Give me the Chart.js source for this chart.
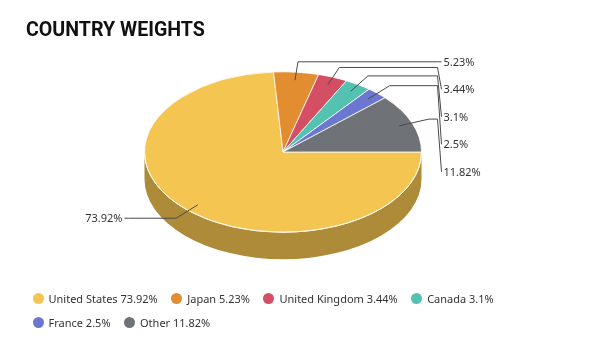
<!DOCTYPE html>
<html>
<head>
<meta charset="utf-8">
<title>Country Weights</title>
<script src="https://cdn.jsdelivr.net/npm/chart.js@4.4.1/dist/chart.umd.min.js"></script>
<style>
  html, body { margin: 0; padding: 0; background: #fff; }
  #wrap { position: relative; width: 600px; height: 352px; overflow: hidden; }
  #chart { position: absolute; left: 0; top: 0; }
  #title {
    position: absolute; left: 26px; top: 19px; margin: 0;
    font: bold 19.6px/22px Roboto, sans-serif; color: #111;
  }
  #legend {
    position: absolute; left: 32.5px; top: 287px; width: 480px;
    display: flex; flex-wrap: wrap; margin: 0; padding: 0; list-style: none;
  }
  #legend li {
    display: flex; align-items: center; height: 23.7px; margin-right: 13.5px;
    font: 11px "Noto Sans", sans-serif; color: #333; white-space: nowrap;
  }
  #legend .dot { width: 11px; height: 11px; border-radius: 50%; margin-right: 5px; }
</style>
</head>
<body>
<div id="wrap">
  <canvas id="chart" width="600" height="352"></canvas>
  <h2 id="title">COUNTRY WEIGHTS</h2>
  <ul id="legend"></ul>
</div>
<script>
const categories = ["United States", "Japan", "United Kingdom", "Canada", "France", "Other"];
const weights = [73.92, 5.23, 3.44, 3.1, 2.5, 11.82];
const sliceColors = ["#f5c551", "#e28d2f", "#d44f64", "#53c2b0", "#6c78cf", "#6f7378"];
const sideColors = ["#ad8b38", "#a0631f", "#963646", "#3a897c", "#4c5592", "#4e5155"];

const PIE_TILT = 0.579;   // vertical squash of the tilted top face
const PIE_DEPTH = 27;     // thickness of the side wall in px
const LABEL_GAP = 27.5;   // minimum vertical distance between stacked labels

function drawLabels(chart) {
  const ctx = chart.ctx;
  const arcs = chart.getDatasetMeta(0).data;
  const cx = arcs[0].x;
  const cy = arcs[0].y;
  const r = arcs[0].outerRadius;

  const points = arcs.map((arc, i) => {
    const mid = (arc.startAngle + arc.endAngle) / 2;
    const cos = Math.cos(mid);
    const sin = Math.sin(mid);
    return {
      i,
      right: cos >= 0,
      sx: cx + 0.9 * r * cos,
      sy: cy + 0.9 * r * PIE_TILT * sin,
      ex: cx + (r + 18) * cos,
      ey: cy + (r + 18) * PIE_TILT * sin
    };
  });

  // push labels down on each side so they don't overlap
  [true, false].forEach((side) => {
    let last = -Infinity;
    points
      .filter((p) => p.right === side)
      .sort((a, b) => a.ey - b.ey)
      .forEach((p) => {
        p.ly = Math.max(p.ey, last + LABEL_GAP);
        last = p.ly;
      });
  });

  ctx.save();
  ctx.font = '11px "Noto Sans", sans-serif';
  ctx.textBaseline = "middle";
  points.forEach((p) => {
    const dir = p.right ? 1 : -1;
    const hx = cx + dir * (r + 16);
    const tx = cx + dir * (r + 20);

    ctx.beginPath();
    ctx.moveTo(p.sx, p.sy);
    ctx.lineTo(p.ex, p.ey);
    ctx.lineTo(hx, p.ey);
    ctx.lineTo(tx, p.ly);
    ctx.strokeStyle = "#4a4a4a";
    ctx.lineWidth = 1;
    ctx.stroke();

    ctx.fillStyle = "#333";
    ctx.textAlign = p.right ? "left" : "right";
    ctx.fillText(`${weights[p.i]}%`, cx + dir * (r + 22), p.ly + 1);
  });
  ctx.restore();
}

const tiltedPie = {
  id: "tiltedPie",
  beforeDatasetsDraw(chart) {
    const ctx = chart.ctx;
    const arcs = chart.getDatasetMeta(0).data;
    const { x, y, outerRadius } = arcs[0];
    const ry = outerRadius * PIE_TILT;

    ctx.save();
    // side wall, only the front half can be seen
    arcs.forEach((arc, i) => {
      const from = Math.max(arc.startAngle, 0);
      const to = Math.min(arc.endAngle, Math.PI);
      if (to <= from) {
        return;
      }
      ctx.beginPath();
      ctx.ellipse(x, y, outerRadius, ry, 0, from, to);
      ctx.ellipse(x, y + PIE_DEPTH, outerRadius, ry, 0, to, from, true);
      ctx.closePath();
      ctx.fillStyle = sideColors[i];
      ctx.fill();
    });

    // squash the regular pie into the top face
    ctx.translate(0, y);
    ctx.scale(1, PIE_TILT);
    ctx.translate(0, -y);
  },
  afterDatasetsDraw(chart) {
    const ctx = chart.ctx;
    ctx.restore();

    // light rim between top face and side wall
    const { x, y, outerRadius } = chart.getDatasetMeta(0).data[0];
    ctx.save();
    ctx.beginPath();
    ctx.ellipse(x, y, outerRadius, outerRadius * PIE_TILT, 0, 0, Math.PI);
    ctx.strokeStyle = "rgba(255, 250, 230, 0.95)";
    ctx.lineWidth = 1;
    ctx.stroke();
    ctx.restore();

    drawLabels(chart);
  }
};

function buildLegend() {
  const list = document.getElementById("legend");
  categories.forEach((name, i) => {
    const item = document.createElement("li");
    const dot = document.createElement("span");
    dot.className = "dot";
    dot.style.background = sliceColors[i];
    item.appendChild(dot);
    item.appendChild(document.createTextNode(`${name} ${weights[i]}%`));
    list.appendChild(item);
  });
}

new Chart(document.getElementById("chart"), {
  type: "pie",
  data: {
    labels: categories,
    datasets: [
      {
        data: weights,
        backgroundColor: sliceColors,
        borderColor: "#ffffff",
        borderWidth: 1,
        clip: false
      }
    ]
  },
  options: {
    responsive: false,
    animation: false,
    rotation: 90,
    layout: { padding: { top: 13, bottom: 61, left: 0, right: 34 } },
    plugins: {
      legend: { display: false },
      tooltip: { enabled: false }
    }
  },
  plugins: [tiltedPie]
});

buildLegend();
</script>
</body>
</html>
